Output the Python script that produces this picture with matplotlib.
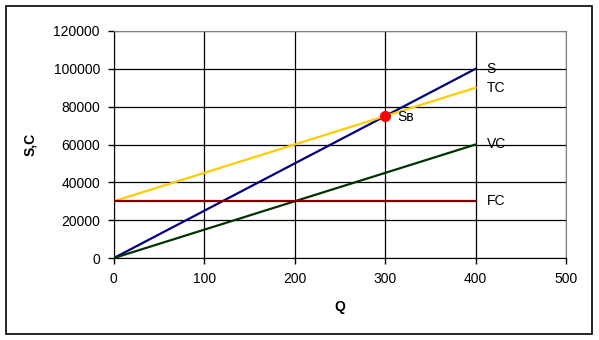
import matplotlib.pyplot as plt
from matplotlib.patches import Rectangle

plt.rcParams["font.family"] = ["Liberation Sans", "DejaVu Sans"]

# Podatki
Q = [0, 400]
S = [0, 100000]
TC = [30000, 90000]
VC = [0, 60000]
FC = [30000, 30000]

LINE_NAMES = ["S", "TC", "VC", "FC"]
LINE_COLORS = ["#000080", "#FFCC00", "#003300", "#800000"]

BREAK_EVEN_Q = 300
BREAK_EVEN_S = 75000
BREAK_EVEN_LABEL = "Sв"

X_TICKS = [0, 100, 200, 300, 400, 500]
Y_TICKS = [0, 20000, 40000, 60000, 80000, 100000, 120000]


fig = plt.figure(figsize=(5.99, 3.40), dpi=100)
ax = fig.add_axes([0.190, 0.241, 0.755, 0.668])

# okvir okrog cele slike
fig.patches.append(Rectangle((0.010, 0.018), 0.978, 0.963, transform=fig.transFigure,
                             fill=False, edgecolor="black", linewidth=1.2))

series = [S, TC, VC, FC]
for values, name, color in zip(series, LINE_NAMES, LINE_COLORS):
    ax.plot(Q, values, color=color, linewidth=1.6, zorder=3)
    ax.text(Q[-1] + 12, values[-1], name, fontsize=10, va="center", ha="left")

ax.plot(BREAK_EVEN_Q, BREAK_EVEN_S, "o", color="#FF0000", markersize=7, zorder=4)
ax.text(BREAK_EVEN_Q + 14, BREAK_EVEN_S - 500, BREAK_EVEN_LABEL, fontsize=10,
        va="center", ha="left")

ax.set_xlim(0, 500)
ax.set_ylim(0, 120000)
ax.set_xticks(X_TICKS)
ax.set_yticks(Y_TICKS)
ax.tick_params(direction="out", length=4, width=1, labelsize=10, pad=6)
ax.grid(True, color="black", linewidth=0.9)
ax.set_axisbelow(True)

for side in ["top", "right"]:
    ax.spines[side].set_color("#808080")
for side in ["left", "bottom"]:
    ax.spines[side].set_color("black")

ax.set_xlabel("Q", fontsize=10, fontweight="bold", labelpad=10)
ax.set_ylabel("S,C", fontsize=10, fontweight="bold", labelpad=12)

fig.savefig("out.png", dpi=100)
